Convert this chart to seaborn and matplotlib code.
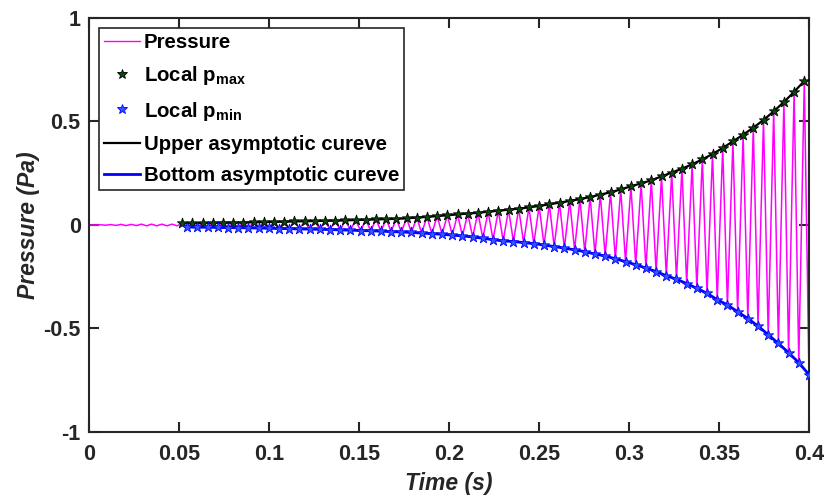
import numpy as np
import pandas as pd
import matplotlib
matplotlib.use("Agg")
import matplotlib.pyplot as plt
import seaborn as sns
from matplotlib.lines import Line2D

# ---------------- data ----------------
# times of the local maxima / minima (evenly spaced peaks, endpoints)
t_max = np.linspace(0.0518, 0.3974, 62)
t_min = np.linspace(0.0546, 0.4000, 62)

p_max = [0.008, 0.009, 0.009, 0.010, 0.011, 0.011, 0.012, 0.013, 0.014, 0.015,
         0.016, 0.017, 0.018, 0.019, 0.020, 0.021, 0.022, 0.024, 0.025, 0.027,
         0.028, 0.030, 0.032, 0.036, 0.039, 0.043, 0.047, 0.051, 0.055, 0.059,
         0.064, 0.069, 0.074, 0.079, 0.085, 0.092, 0.100, 0.108, 0.116, 0.125,
         0.135, 0.147, 0.158, 0.172, 0.187, 0.201, 0.216, 0.235, 0.253, 0.272,
         0.293, 0.317, 0.343, 0.372, 0.404, 0.436, 0.470, 0.507, 0.549, 0.594,
         0.643, 0.696]

p_min = [-0.010, -0.011, -0.011, -0.012, -0.013, -0.013, -0.014, -0.015, -0.016, -0.017,
         -0.018, -0.019, -0.020, -0.021, -0.022, -0.024, -0.025, -0.027, -0.028, -0.030,
         -0.032, -0.034, -0.036, -0.039, -0.042, -0.045, -0.049, -0.053, -0.058, -0.064,
         -0.071, -0.077, -0.080, -0.085, -0.090, -0.097, -0.104, -0.112, -0.120, -0.129,
         -0.140, -0.150, -0.163, -0.177, -0.192, -0.208, -0.225, -0.245, -0.262, -0.283,
         -0.306, -0.330, -0.361, -0.386, -0.419, -0.452, -0.488, -0.530, -0.572, -0.617,
         -0.665, -0.723]

# small ripple before the onset (t < 0.05)
pre_t = [0.0, 0.0040, 0.0065, 0.0093, 0.0121, 0.0150, 0.0178, 0.0206, 0.0235, 0.0263,
         0.0291, 0.0320, 0.0348, 0.0376, 0.0405, 0.0433, 0.0461, 0.0490]
pre_p = [0.0, 0.0, 0.001, -0.001, 0.002, -0.002, 0.003, -0.003, 0.003, -0.003,
         0.004, -0.004, 0.004, -0.004, 0.004, -0.004, 0.004, -0.004]

x_ticks = [0, 0.05, 0.1, 0.15, 0.2, 0.25, 0.3, 0.35, 0.4]
x_labels = ["0", "0.05", "0.1", "0.15", "0.2", "0.25", "0.3", "0.35", "0.4"]
y_ticks = [-1, -0.5, 0, 0.5, 1]
y_labels = ["-1", "-0.5", "0", "0.5", "1"]

# ---------------- build tables ----------------
df_max = pd.DataFrame({"t": t_max, "p": p_max})
df_min = pd.DataFrame({"t": t_min, "p": p_min})
df_pre = pd.DataFrame({"t": pre_t, "p": pre_p})
df_press = (pd.concat([df_pre, df_max, df_min], ignore_index=True)
            .sort_values("t").reset_index(drop=True))

# ---------------- style ----------------
plt.rcParams["font.family"] = ["Liberation Sans", "DejaVu Sans"]
plt.rcParams["font.weight"] = "bold"
plt.rcParams["mathtext.fontset"] = "custom"
plt.rcParams["mathtext.rm"] = "Liberation Sans:bold"
plt.rcParams["mathtext.bf"] = "Liberation Sans:bold"
plt.rcParams["mathtext.it"] = "Liberation Sans:bold:italic"

fig = plt.figure(figsize=(8.27, 4.97), dpi=100)
ax = fig.add_axes([0.1076, 0.1308, 0.8706, 0.8330])

MAG = "#ff00ff"
sns.lineplot(data=df_press, x="t", y="p", ax=ax, color=MAG, linewidth=1.1,
             sort=False, estimator=None)
sns.lineplot(data=df_max, x="t", y="p", ax=ax, color="black", linewidth=1.6,
             sort=False, estimator=None)
sns.lineplot(data=df_min, x="t", y="p", ax=ax, color="#0000ff", linewidth=2.0,
             sort=False, estimator=None)
sns.scatterplot(data=df_max, x="t", y="p", ax=ax, marker="*", s=60,
                color="#0a4a0a", edgecolor="black", linewidth=0.6, zorder=5)
sns.scatterplot(data=df_min, x="t", y="p", ax=ax, marker="*", s=60,
                color="#3355ff", edgecolor="#0000ff", linewidth=0.6, zorder=5)

ax.set_xlim(0, 0.4)
ax.set_ylim(-1, 1)
ax.set_xticks(x_ticks)
ax.set_xticklabels(x_labels)
ax.set_yticks(y_ticks)
ax.set_yticklabels(y_labels)
ax.tick_params(direction="in", length=7, width=1.5, top=True, right=True,
               labelsize=15.5, colors="#262626")
ax.tick_params(axis="x", pad=9)
ax.tick_params(axis="y", pad=6)
for lab in ax.get_xticklabels() + ax.get_yticklabels():
    lab.set_fontweight("bold")
for sp in ax.spines.values():
    sp.set_linewidth(1.5)
    sp.set_color("#262626")

ax.set_xlabel("Time (s)", fontsize=16.5, fontweight="bold", fontstyle="italic",
              color="#262626", labelpad=5)
ax.set_ylabel("Pressure (Pa)", fontsize=16.5, fontweight="bold", fontstyle="italic",
              color="#262626", labelpad=2)

handles = [
    Line2D([], [], color=MAG, linewidth=1.0),
    Line2D([], [], linestyle="none", marker="*", markersize=7,
           markerfacecolor="#0a4a0a", markeredgecolor="black", markeredgewidth=0.6),
    Line2D([], [], linestyle="none", marker="*", markersize=7,
           markerfacecolor="#3355ff", markeredgecolor="#0000ff", markeredgewidth=0.6),
    Line2D([], [], color="black", linewidth=1.6),
    Line2D([], [], color="#0000ff", linewidth=2.0),
]
labels = ["Pressure", r"Local p$_{\mathrm{max}}$", r"Local p$_{\mathrm{min}}$",
          "Upper asymptotic cureve", "Bottom asymptotic cureve"]
leg = ax.legend(handles, labels, loc="upper left", bbox_to_anchor=(0.0139, 0.976),
                borderaxespad=0, fontsize=14.7, frameon=True, fancybox=False,
                framealpha=1, edgecolor="#262626", handlelength=1.75,
                handletextpad=0.2, borderpad=0.25, labelspacing=0.6)
leg.get_frame().set_linewidth(1.2)
for txt in leg.get_texts():
    txt.set_fontweight("bold")

fig.savefig("out.png", dpi=100)
